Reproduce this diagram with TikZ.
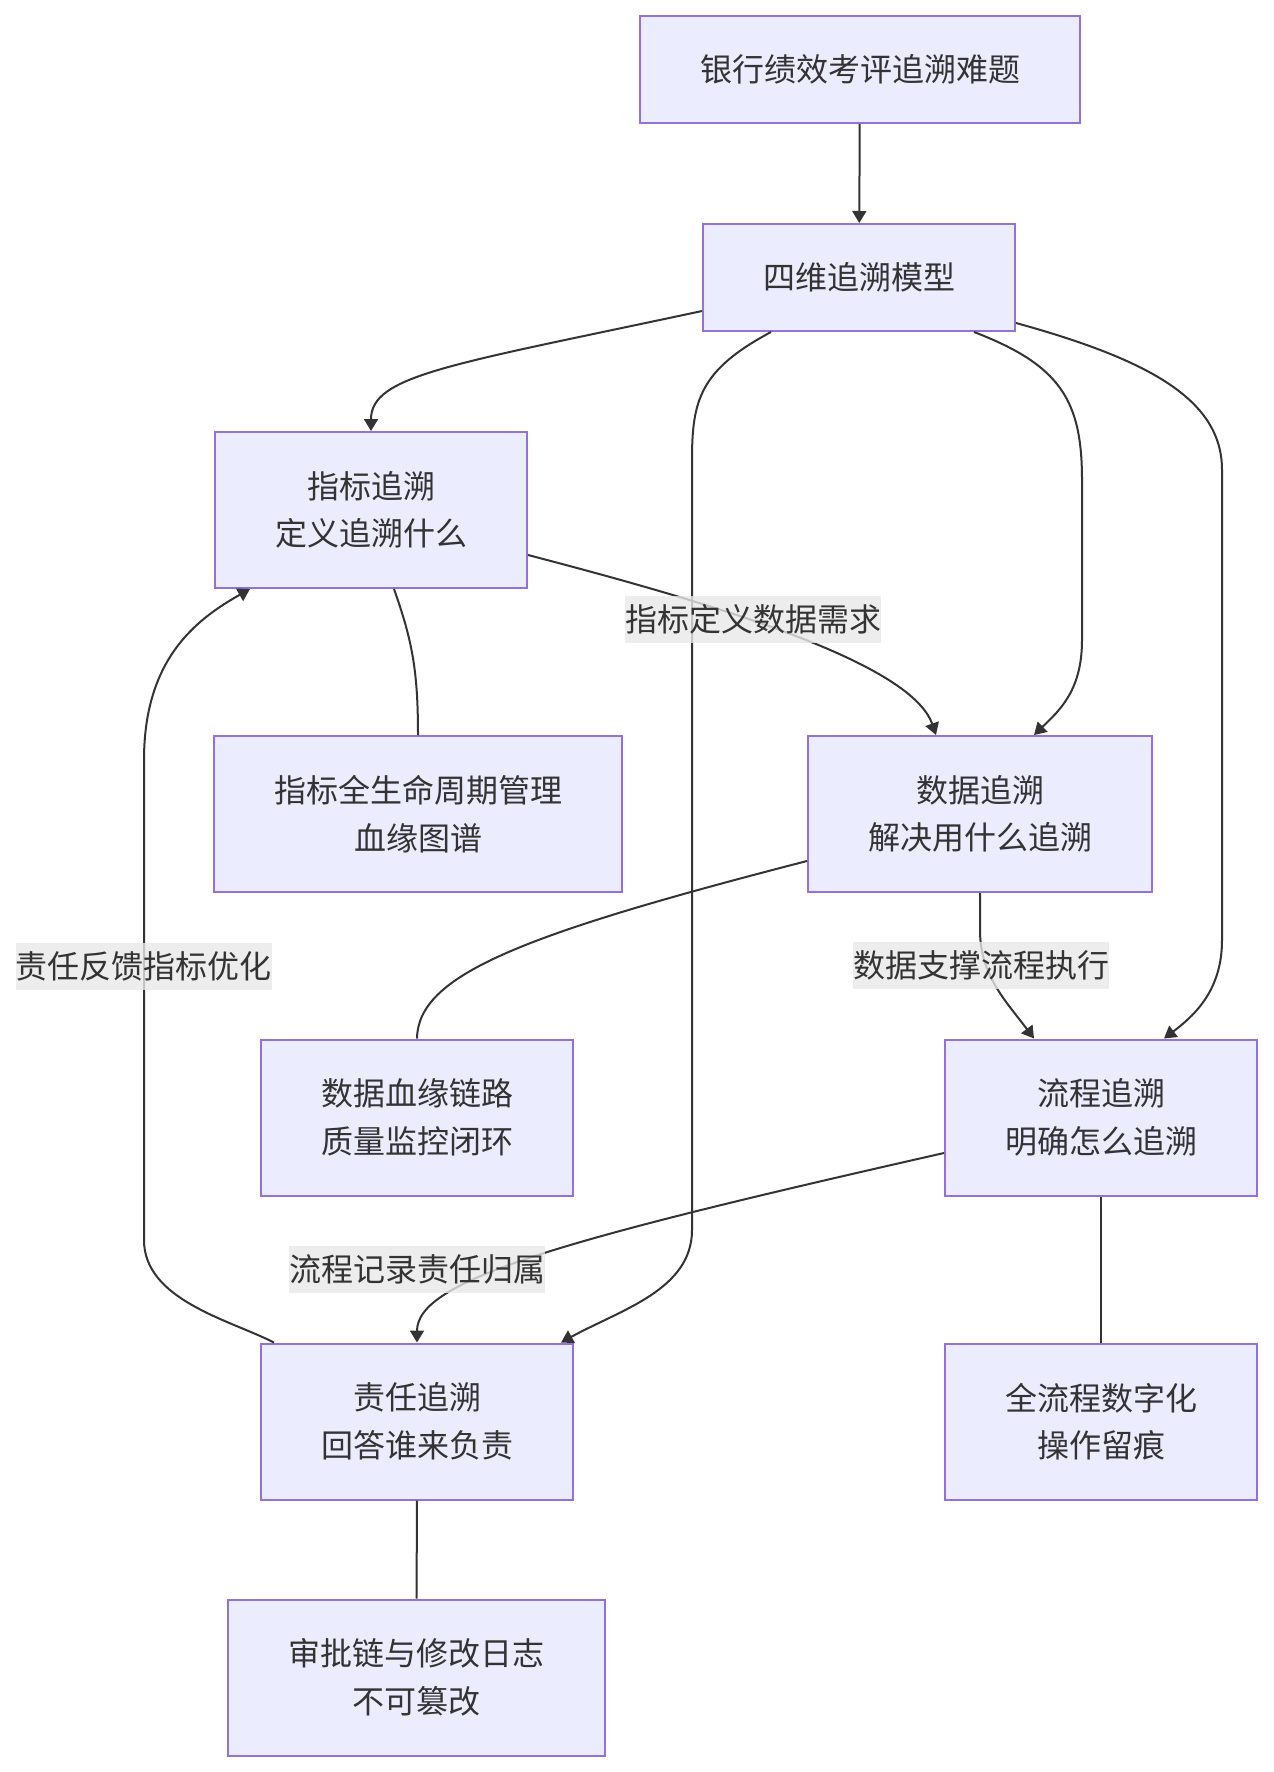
\documentclass[tikz,border=0pt]{standalone}
\usepackage{fontspec}
\setmainfont{Noto Sans CJK SC}
\usepackage{tikz}
\usetikzlibrary{calc,arrows.meta}

\definecolor{boxfill}{HTML}{ECECFF}
\definecolor{boxline}{HTML}{9370DB}
\definecolor{txt}{HTML}{333333}
\definecolor{lblbg}{HTML}{E8E8E8}

\begin{document}
\begin{tikzpicture}[x=0.5pt, y=-0.5pt,
                    box/.style={draw=boxline, fill=boxfill, line width=1pt,
                                text=txt, align=center, inner sep=0pt,
                                minimum width=156pt, minimum height=78pt,
                                font=\fontsize{16pt}{23.75pt}\selectfont},
                    lbl/.style={fill=lblbg, fill opacity=0.8, text opacity=1,
                                text=txt, inner xsep=0pt, inner ysep=0pt,
                                minimum height=23.5pt,
                                font=\fontsize{16pt}{23.75pt}\selectfont},
                    link/.style={draw=txt, line width=1pt},
                    arr/.style={link, -{Triangle[length=6pt, width=7pt]}}]
    \useasboundingbox (0,0) rectangle (1274,1772);

    \node[box, minimum width=220pt, minimum height=53.5pt] (top) at (860,69.5) {银行绩效考评追溯难题};
    \node[box, minimum height=53.5pt] (m)  at (859,277.5) {四维追溯模型};
    \node[box] (zb) at (371,510)   {指标追溯\\定义追溯什么};
    \node[box, minimum width=204pt] (lc) at (418,814) {指标全生命周期管理\\血缘图谱};
    \node[box, minimum width=172pt] (dt) at (980,814) {数据追溯\\解决用什么追溯};
    \node[box] (ln) at (417,1117.5) {数据血缘链路\\质量监控闭环};
    \node[box] (pr) at (1101,1117.5) {流程追溯\\明确怎么追溯};
    \node[box] (rs) at (417,1421.5) {责任追溯\\回答谁来负责};
    \node[box] (dg) at (1101,1421.5) {全流程数字化\\操作留痕};
    \node[box, minimum width=188.5pt] (ap) at (416.5,1677.5) {审批链与修改日志\\不可篡改};

    \draw[arr] (top) -- (m);
    \draw[arr] ($(m.west)+(0,33.5)$) .. controls (450,365) and (371,375) .. (zb.north);
    \draw[arr] ($(m.south west)+(69,0)$) .. controls (700,370) and (692,400) .. (692,460)
        -- (692,1230) .. controls (692,1290) and (620,1310) .. ($(rs.north east)+(-13,0)$);
    \draw[arr] ($(m.south)+(115,0)$) .. controls (1060,365) and (1082,400) .. (1082,480)
        -- (1082,640) .. controls (1082,690) and (1060,710) .. ($(dt.north)+(54,0)$);
    \draw[arr] ($(m.east)+(0,45.5)$) .. controls (1150,360) and (1222,400) .. (1222,470)
        -- (1222,940) .. controls (1222,990) and (1195,1015) .. ($(pr.north)+(63,0)$);
    \draw[arr] ($(zb.east)+(0,45)$) .. controls (700,600) and (910,660) .. ($(dt.north)+(-44,0)$);
    \draw[link] ($(zb.south)+(23,0)$) .. controls (412,640) and (418,670) .. (lc.north);
    \draw[link] ($(dt.west)+(0,47)$) .. controls (520,935) and (418,975) .. (ln.north);
    \draw[arr] (dt.south) -- (980,930) .. controls (980,975) and (1005,1000) .. ($(pr.north)+(-67,0)$);
    \draw[arr] ($(pr.west)+(0,35.5)$) .. controls (560,1240) and (417,1280) .. (rs.north);
    \draw[link] (pr) -- (dg);
    \draw[arr] ($(rs.north west)+(14,0)$) .. controls (230,1320) and (144,1300) .. (144,1240)
        -- (144,760) .. controls (144,660) and (195,620) .. ($(zb.south west)+(36,0)$);
    \draw[link] (rs) -- (ap);

    \node[lbl] (l1) at (753,619.5) {指标定义数据需求};
    \node[lbl] (l2) at (981,965.5) {数据支撑流程执行};
    \node[lbl] (l3) at (417,1269.5) {流程记录责任归属};
    \node[lbl] (l4) at (144,966)   {责任反馈指标优化};
\end{tikzpicture}
\end{document}
